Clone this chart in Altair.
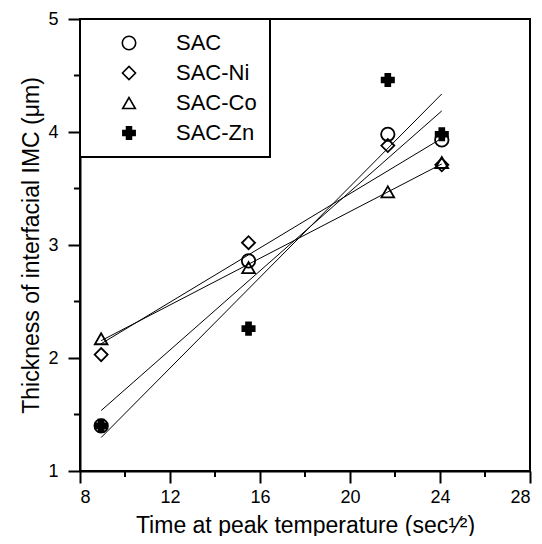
import altair as alt
import pandas as pd

series = ["SAC", "SAC-Ni", "SAC-Co", "SAC-Zn"]
time_x = [8.94, 15.49, 21.68, 24.08]
sac = [1.40, 2.86, 3.98, 3.93]
sac_ni = [2.03, 3.02, 3.88, 3.71]
sac_co = [2.17, 2.80, 3.47, 3.73]
sac_zn = [1.40, 2.26, 4.46, 3.98]

x_major = [8, 12, 16, 20, 24, 28]
x_minor = [10, 14, 18, 22, 26]
y_major = [1, 2, 3, 4, 5]
y_minor = [1.5, 2.5, 3.5, 4.5]

rows = []
for name, vals in zip(series, [sac, sac_ni, sac_co, sac_zn]):
    for xv, yv in zip(time_x, vals):
        rows.append({"series": name, "x": xv, "y": yv})
df = pd.DataFrame(rows)

W, H = 450, 452
FONT = "Liberation Sans"

xscale = alt.Scale(domain=[8, 28], nice=False)
yscale = alt.Scale(domain=[1, 5], nice=False)

x_enc = alt.X("x:Q", scale=xscale,
              axis=alt.Axis(title="Time at peak temperature (sec¹⁄²)", values=x_major,
                            format="d", tickSize=12, labelPadding=5, titlePadding=8, grid=False))
y_enc = alt.Y("y:Q", scale=yscale,
              axis=alt.Axis(title="Thickness of interfacial IMC (μm)", values=y_major,
                            format="d", tickSize=12, labelPadding=10, titlePadding=4, grid=False))

lines = alt.Chart(df).transform_regression(
    "x", "y", groupby=["series"], method="linear"
).mark_line(color="black", strokeWidth=1).encode(
    x=x_enc, y=y_enc, detail="series:N"
)

legend = alt.Legend(title=None, orient="top-left", offset=0, padding=13,
                    strokeColor="black", labelFontSize=22, labelFont=FONT,
                    labelColor="black", symbolStrokeWidth=1.6, rowPadding=8,
                    labelOffset=36, symbolOffset=25)

points = alt.Chart(df).mark_point(strokeWidth=1.8, color="black", opacity=1).encode(
    x=x_enc, y=y_enc,
    shape=alt.Shape("series:N",
                    scale=alt.Scale(domain=series, range=["circle", "diamond", "triangle-up", "cross"]),
                    legend=legend),
    fill=alt.Fill("series:N",
                  scale=alt.Scale(domain=series, range=["transparent", "transparent", "transparent", "black"]),
                  legend=legend),
    size=alt.Size("series:N",
                  scale=alt.Scale(domain=series, range=[180, 150, 150, 110]),
                  legend=legend),
)

minor_x = alt.Chart(pd.DataFrame({"x": x_minor})).mark_rule(
    color="black", strokeWidth=2, clip=False
).encode(x=alt.X("x:Q", scale=xscale), y=alt.value(H), y2=alt.value(H + 6))

minor_y = alt.Chart(pd.DataFrame({"y": y_minor})).mark_rule(
    color="black", strokeWidth=2, clip=False
).encode(y=alt.Y("y:Q", scale=yscale), x=alt.value(0), x2=alt.value(-6))

chart = alt.layer(lines, points, minor_x, minor_y).properties(
    width=W, height=H,
    autosize=alt.AutoSizeParams(type="none"),
    padding={"left": 72, "top": 11, "right": 4, "bottom": 65},
).configure_view(stroke="black", strokeWidth=2).configure_axis(
    domainColor="black", domainWidth=2, tickColor="black", tickWidth=2, ticks=True,
    labelFont=FONT, labelFontSize=18, labelColor="black",
    titleFont=FONT, titleFontSize=23, titleFontWeight="normal", titleColor="black",
).configure_legend(
    strokeWidth=2, fillColor="white"
)

chart.save("out.html", embed_options={"renderer": "svg", "actions": False})
